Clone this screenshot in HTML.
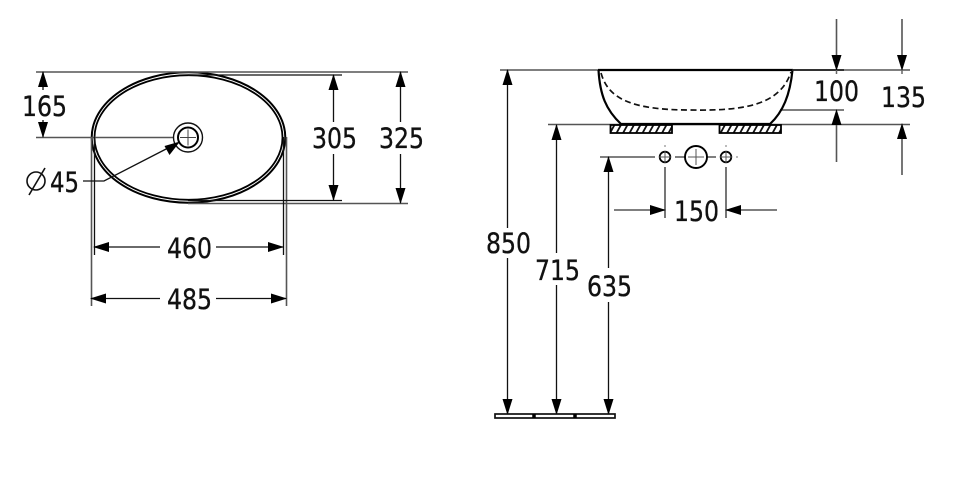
<!DOCTYPE html>
<html><head><meta charset="utf-8"><style>
html,body{margin:0;padding:0;background:#fff}
svg{display:block}
text{font-family:"DejaVu Sans",sans-serif;font-size:28px;fill:#111;stroke:#111;stroke-width:.35;text-rendering:geometricPrecision}
.g{stroke:#555;stroke-width:1.6;fill:none}
.k{stroke:#111;stroke-width:1.3;fill:none}
.b{stroke:#000;stroke-width:2.2;fill:none}
.a{fill:#000;stroke:none}
</style></head><body>
<svg width="960" height="485" viewBox="0 0 960 485" xmlns="http://www.w3.org/2000/svg">
<defs><pattern id="h" width="6.5" height="8" patternUnits="userSpaceOnUse" patternTransform="translate(611 125)"><path d="M-1.5 9L4 -1M5 9L10.5 -1" stroke="#111" stroke-width="1.8"/></pattern></defs>

<!-- top view -->
<ellipse cx="188.5" cy="137.5" rx="96.8" ry="65.2" fill="none" stroke="#000" stroke-width="2"/>
<ellipse cx="188.5" cy="137.5" rx="94" ry="62.3" fill="none" stroke="#000" stroke-width="1.8"/>
<path class="g" d="M36 72H408M36 137.5H178M188 203.5H408M91.5 137V306M286.5 137V306"/>
<path class="k" d="M188 75H342M188 200.5H342M94.5 137V255M283.5 137V255"/>
<circle cx="188" cy="137.5" r="14.5" fill="#fff" stroke="#111" stroke-width="1.4"/>
<circle cx="188" cy="137.5" r="10" fill="none" stroke="#000" stroke-width="2"/>
<path d="M180 137.5H196M188 129.5V145.5" stroke="#444" stroke-width="1"/>
<path d="M83 181H104L170 147" class="k"/>
<path class="a" d="M180 141.5L164.5 146L169.5 155Z"/>
<circle cx="36" cy="181" r="9" fill="none" stroke="#111" stroke-width="1.6"/>
<path d="M29 195L45 168" stroke="#111" stroke-width="1.6"/>

<!-- top view dims -->
<path class="k" d="M43 72V90M43 120V137"/>
<path class="a" d="M43 71L48 87H38ZM43 138L38 122H48Z"/>
<path class="k" d="M333.5 75V122M333.5 154V200M400.5 72V122M400.5 154V203"/>
<path class="a" d="M333.5 74L338.5 90H328.5ZM333.5 201L328.5 185H338.5ZM400.5 71L405.5 87H395.5ZM400.5 204L395.5 188H405.5Z"/>
<path class="k" d="M94 247H160M216 247H283M91 298.5H160M216 298.5H286"/>
<path class="a" d="M93 247L109 242V252ZM284 247L268 242V252ZM90 298.5L106 293.5V303.5ZM287 298.5L271 293.5V303.5Z"/>

<text x="22" y="116" textLength="45" lengthAdjust="spacingAndGlyphs">165</text>
<text x="50" y="192" textLength="29" lengthAdjust="spacingAndGlyphs">45</text>
<text x="312" y="148" textLength="45" lengthAdjust="spacingAndGlyphs">305</text>
<text x="379" y="148" textLength="45" lengthAdjust="spacingAndGlyphs">325</text>
<text x="167" y="258" textLength="45" lengthAdjust="spacingAndGlyphs">460</text>
<text x="167" y="309" textLength="45" lengthAdjust="spacingAndGlyphs">485</text>

<!-- side view -->
<path class="g" d="M500 70H598M792 70H910M548 124.5H910M780 110H844"/>
<path class="b" d="M598 70H793M598.5 70C600 95 606 110 621 124H770C783 112 790 95 792.5 70"/>
<path d="M792 70H844" stroke="#222" stroke-width="1.7"/>
<path d="M601 73C608 98 630 110 690 110C745 111 780 105 791 72" fill="none" stroke="#111" stroke-width="1.7" stroke-dasharray="6 3.5"/>
<rect x="610.5" y="125" width="61.5" height="8" fill="url(#h)" stroke="#000" stroke-width="1.8"/>
<rect x="719.5" y="125" width="61.5" height="8" fill="url(#h)" stroke="#000" stroke-width="1.8"/>

<!-- holes -->
<path class="g" d="M600 157H655M675 157H685M707 157H716M665 167V218M726 167V218M614 210H665M726 210H777"/>
<circle cx="665" cy="157" r="5.3" fill="none" stroke="#000" stroke-width="1.8"/>
<circle cx="726" cy="157" r="5.3" fill="none" stroke="#000" stroke-width="1.8"/>
<circle cx="696" cy="157" r="11" fill="none" stroke="#000" stroke-width="1.9"/>
<path d="M659 157H671M665 151V163M720 157H732M726 151V163M688 157H704M696 149V165" stroke="#555" stroke-width="1"/>
<path d="M665 145V147M726 145V147M736 157H738" stroke="#777" stroke-width="1"/>
<path class="a" d="M666 210L650 205V215ZM725 210L741 205V215Z"/>
<text x="674" y="221" textLength="45" lengthAdjust="spacingAndGlyphs">150</text>

<!-- side dims -->
<path class="k" d="M507.5 70V228M507.5 258V414M556.5 125V253M556.5 285V414M608.5 157V268M608.5 302V414"/>
<path class="a" d="M507.5 69L512.5 85H502.5ZM556.5 124L561.5 140H551.5ZM608.5 156L613.5 172H603.5ZM507.5 415L502.5 399H512.5ZM556.5 415L551.5 399H561.5ZM608.5 415L603.5 399H613.5Z"/>
<text x="486" y="253" textLength="45" lengthAdjust="spacingAndGlyphs">850</text>
<text x="535" y="280" textLength="45" lengthAdjust="spacingAndGlyphs">715</text>
<text x="587" y="296" textLength="45" lengthAdjust="spacingAndGlyphs">635</text>
<rect x="495" y="414" width="120" height="4" fill="#fff" stroke="#111" stroke-width="1.7"/>
<path d="M534 414V418M575 414V418" stroke="#000" stroke-width="3.5"/>

<path class="g" d="M836.5 19V56M836.5 124V162M902 19V56M902 138V175"/>
<path class="a" d="M836.5 71L831.5 55H841.5ZM836.5 109L841.5 125H831.5ZM902 71L897 55H907ZM902 123L907 139H897Z"/>
<path d="M836.5 70V74M902 70V74" stroke="#666" stroke-width="1.5"/>
<text x="814" y="101" textLength="45" lengthAdjust="spacingAndGlyphs">100</text>
<text x="881" y="107" textLength="45" lengthAdjust="spacingAndGlyphs">135</text>
</svg>
</body></html>
